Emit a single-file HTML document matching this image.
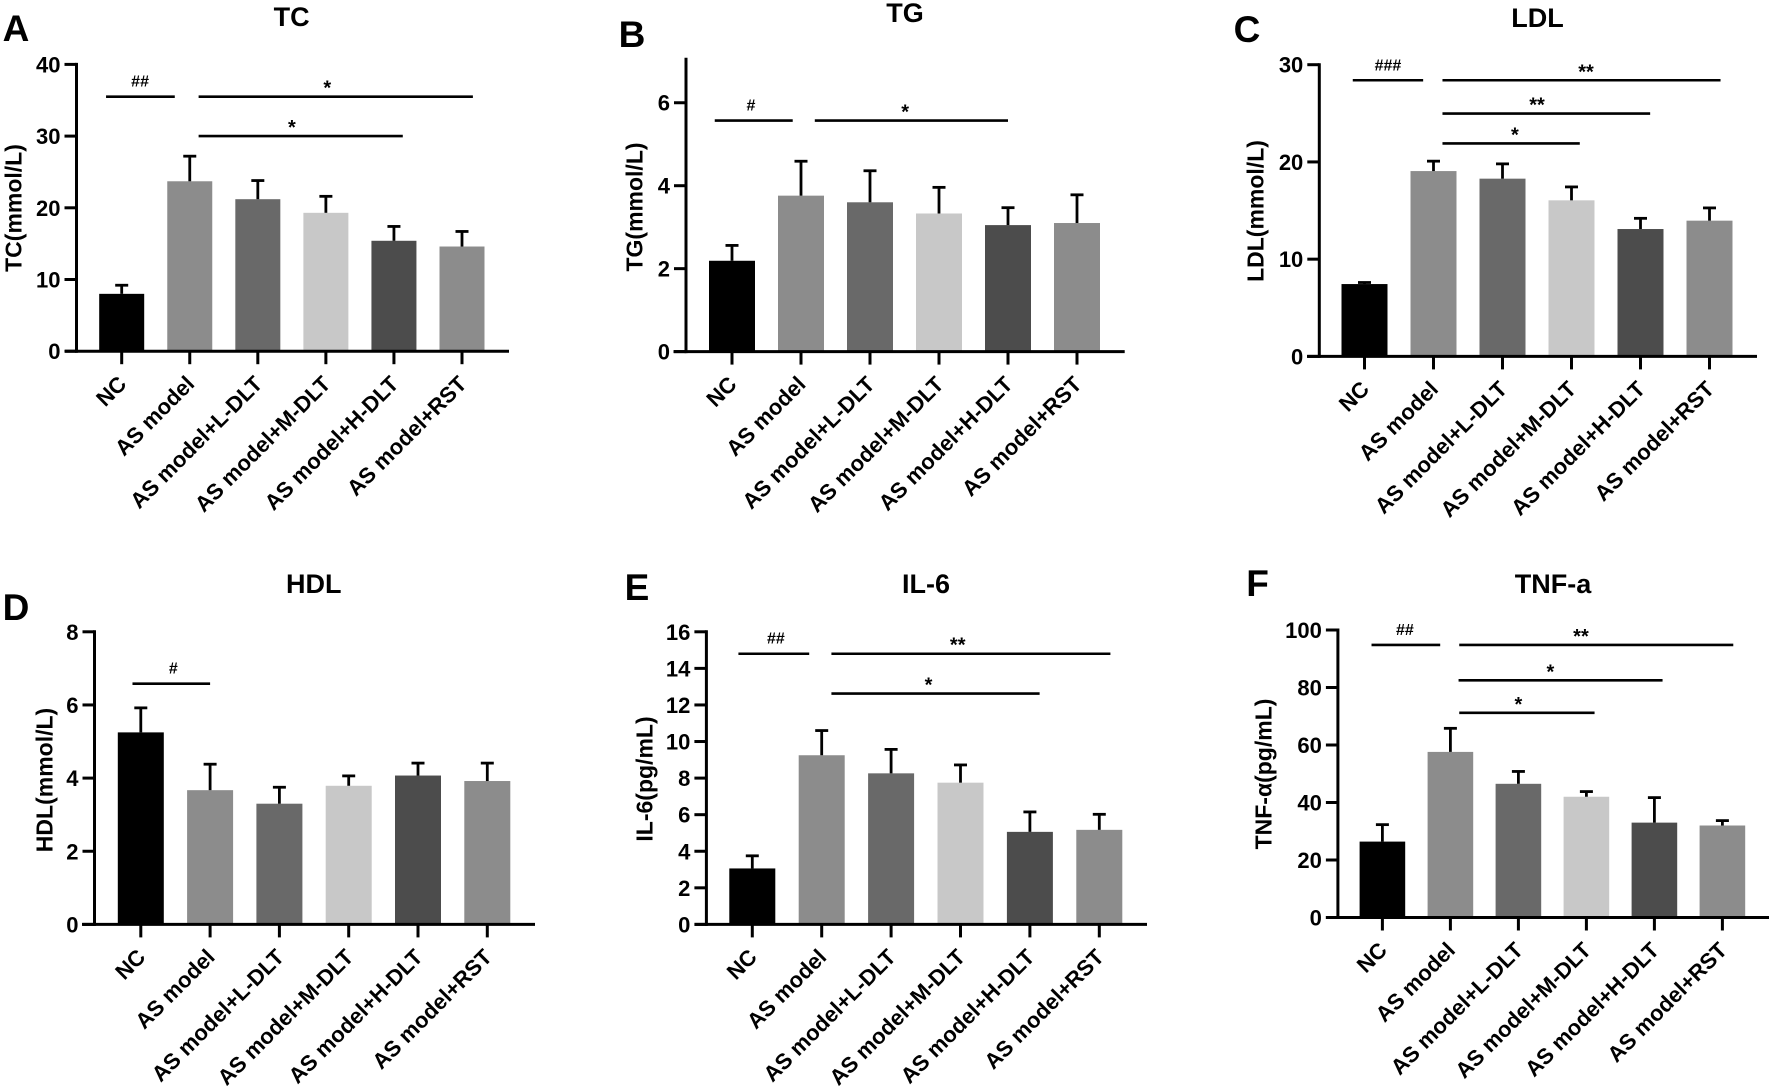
<!DOCTYPE html>
<html lang="en">
<head>
<meta charset="utf-8">
<title>Serum lipid and inflammatory markers</title>
<style>
html,body{margin:0;padding:0;background:#fff;}
body{width:1772px;height:1091px;overflow:hidden;}
svg{display:block;}
text{font-family:"Liberation Sans",Arial,sans-serif;font-weight:bold;fill:#000;}
</style>
</head>
<body>
<svg id="figure" width="1772" height="1091" viewBox="0 0 1772 1091" xmlns="http://www.w3.org/2000/svg"></svg>
<script>
const categories = ["NC", "AS model", "AS model+L-DLT", "AS model+M-DLT", "AS model+H-DLT", "AS model+RST"];

const tcMeans = [8.0, 23.7, 21.2, 19.3, 15.4, 14.6];
const tcErrors = [1.2, 3.5, 2.6, 2.3, 2.0, 2.1];
const tcTicks = [0, 10, 20, 30, 40];
const tcSig = [
  {y: 35.5, from: -0.23, to: 0.78, text: "##", at: 0.27},
  {y: 35.5, from: 1.13, to: 5.16, text: "*", at: 3.02},
  {y: 30, from: 1.13, to: 4.13, text: "*", at: 2.5}
];

const tgMeans = [2.19, 3.76, 3.6, 3.33, 3.05, 3.1];
const tgErrors = [0.37, 0.83, 0.76, 0.63, 0.42, 0.68];
const tgTicks = [0, 2, 4, 6];
const tgSig = [
  {y: 5.57, from: -0.25, to: 0.88, text: "#", at: 0.275},
  {y: 5.57, from: 1.2, to: 4.0, text: "*", at: 2.51}
];

const ldlMeans = [7.44, 19.06, 18.28, 16.05, 13.1, 13.96];
const ldlErrors = [0.16, 1.02, 1.52, 1.38, 1.1, 1.31];
const ldlTicks = [0, 10, 20, 30];
const ldlSig = [
  {y: 28.4, from: -0.17, to: 0.85, text: "###", at: 0.34},
  {y: 28.4, from: 1.13, to: 5.16, text: "**", at: 3.21},
  {y: 24.97, from: 1.13, to: 4.14, text: "**", at: 2.5},
  {y: 21.9, from: 1.13, to: 3.12, text: "*", at: 2.18}
];

const hdlMeans = [5.25, 3.67, 3.3, 3.79, 4.07, 3.92];
const hdlErrors = [0.67, 0.71, 0.45, 0.27, 0.34, 0.49];
const hdlTicks = [0, 2, 4, 6, 8];
const hdlSig = [
  {y: 6.58, from: -0.12, to: 1.0, text: "#", at: 0.47}
];

const il6Means = [3.06, 9.25, 8.26, 7.75, 5.06, 5.17];
const il6Errors = [0.69, 1.35, 1.31, 0.97, 1.09, 0.85];
const il6Ticks = [0, 2, 4, 6, 8, 10, 12, 14, 16];
const il6Sig = [
  {y: 14.8, from: -0.2, to: 0.82, text: "##", at: 0.34},
  {y: 14.8, from: 1.14, to: 5.16, text: "**", at: 2.96},
  {y: 12.62, from: 1.14, to: 4.14, text: "*", at: 2.54}
];

const tnfMeans = [26.4, 57.6, 46.5, 42, 33, 32];
const tnfErrors = [5.9, 8.2, 4.3, 1.8, 8.7, 1.7];
const tnfTicks = [0, 20, 40, 60, 80, 100];
const tnfSig = [
  {y: 94.8, from: -0.16, to: 0.85, text: "##", at: 0.33},
  {y: 94.8, from: 1.13, to: 5.16, text: "**", at: 2.92},
  {y: 82.5, from: 1.12, to: 4.12, text: "*", at: 2.47},
  {y: 71.2, from: 1.13, to: 3.12, text: "*", at: 2.0}
];

const barColors = ["#000000", "#8c8c8c", "#696969", "#c8c8c8", "#4c4c4c", "#8c8c8c"];

const panels = [
  {id: "a", letter: "A", lx: 16, ly: 41, title: "TC", tx: 291.6, ty: 26, ytitle: "TC(mmol/L)", ytx: 22, yty: 208,
   axisX: 76.5, y0: 351.2, yTop: 64.4, maxV: 40, xStart: 65, xEnd: 509, c0: 121.7, step: 68.06, bw: 45,
   means: tcMeans, errors: tcErrors, ticks: tcTicks, sig: tcSig},
  {id: "b", letter: "B", lx: 632, ly: 47, title: "TG", tx: 905, ty: 22, ytitle: "TG(mmol/L)", ytx: 643, yty: 207,
   axisX: 686, y0: 351.6, yTop: 59.2, maxV: 7.05, xStart: 673.5, xEnd: 1124.7, c0: 732, step: 69, bw: 46,
   means: tgMeans, errors: tgErrors, ticks: tgTicks, sig: tgSig},
  {id: "c", letter: "C", lx: 1247, ly: 42, title: "LDL", tx: 1537.5, ty: 27, ytitle: "LDL(mmol/L)", ytx: 1264, yty: 211,
   axisX: 1319.3, y0: 356.4, yTop: 64.7, maxV: 30, xStart: 1307, xEnd: 1757, c0: 1364.5, step: 69, bw: 46,
   means: ldlMeans, errors: ldlErrors, ticks: ldlTicks, sig: ldlSig},
  {id: "d", letter: "D", lx: 16, ly: 620, title: "HDL", tx: 313.8, ty: 593, ytitle: "HDL(mmol/L)", ytx: 53, yty: 780,
   axisX: 94.5, y0: 924.4, yTop: 631.8, maxV: 8, xStart: 82, xEnd: 535, c0: 140.8, step: 69.3, bw: 46,
   means: hdlMeans, errors: hdlErrors, ticks: hdlTicks, sig: hdlSig},
  {id: "e", letter: "E", lx: 637, ly: 600, title: "IL-6", tx: 926, ty: 593, ytitle: "IL-6(pg/mL)", ytx: 653, yty: 779,
   axisX: 706.4, y0: 924.4, yTop: 631.8, maxV: 16, xStart: 694.5, xEnd: 1147, c0: 752.3, step: 69.4, bw: 46,
   means: il6Means, errors: il6Errors, ticks: il6Ticks, sig: il6Sig},
  {id: "f", letter: "F", lx: 1257.6, ly: 596, title: "TNF-a", tx: 1553, ty: 593, ytitle: "TNF-α(pg/mL)", ytx: 1272, yty: 774,
   axisX: 1337.9, y0: 917.5, yTop: 630, maxV: 100, xStart: 1325.9, xEnd: 1769, c0: 1382.4, step: 68, bw: 45.6,
   means: tnfMeans, errors: tnfErrors, ticks: tnfTicks, sig: tnfSig}
];

const SVG_NS = "http://www.w3.org/2000/svg";
const figure = document.getElementById("figure");

function make(tag, parent, attrs, content) {
  const node = document.createElementNS(SVG_NS, tag);
  for (const key in attrs) node.setAttribute(key, attrs[key]);
  if (content !== undefined) node.textContent = content;
  parent.appendChild(node);
  return node;
}

function drawPanel(p) {
  const yScale = v => p.y0 - (v / p.maxV) * (p.y0 - p.yTop);
  const xScale = i => p.c0 + i * p.step;

  const group = make("g", figure, {});
  
  

  const letter = make("text", group, {x: p.lx, y: p.ly, "text-anchor": "middle", "font-size": 37}, p.letter);
  
  

  const title = make("text", group, {x: p.tx, y: p.ty, "text-anchor": "middle", "font-size": 27}, p.title);
  
  

  const yTitle = make("text", group, {x: 0, y: 0, "text-anchor": "middle", "font-size": 23,
    transform: "translate(" + (p.ytx - 0.5) + "," + p.yty + ") rotate(-90)"}, p.ytitle);
  
  

  p.means.forEach((value, i) => {
    const bar = make("rect", group, {x: xScale(i) - p.bw / 2, y: yScale(value), width: p.bw,
      height: p.y0 - yScale(value), fill: barColors[i]});
    
    

    const top = yScale(value + p.errors[i]);
    const stem = make("line", group, {x1: xScale(i), x2: xScale(i), y1: yScale(value), y2: top,
      stroke: "#000", "stroke-width": 2.8});
    
    

    const cap = make("line", group, {x1: xScale(i) - 6.5, x2: xScale(i) + 6.5, y1: top, y2: top,
      stroke: "#000", "stroke-width": 2.8});
    
    

    const tick = make("line", group, {x1: xScale(i), x2: xScale(i), y1: p.y0, y2: p.y0 + 13,
      stroke: "#000", "stroke-width": 3});
    
    

    const label = make("text", group, {x: 0, y: 0, "text-anchor": "end", "font-size": 22,
      transform: "translate(" + (xScale(i) + 6) + "," + (p.y0 + 34) + ") rotate(-45)"}, categories[i]);
    
    
  });

  p.ticks.forEach(value => {
    const tick = make("line", group, {x1: p.axisX - 12, x2: p.axisX, y1: yScale(value), y2: yScale(value),
      stroke: "#000", "stroke-width": 3});
    
    

    const label = make("text", group, {x: p.axisX - 16, y: yScale(value) + 8, "text-anchor": "end", "font-size": 22}, String(value));
    
    
  });

  const yAxis = make("line", group, {x1: p.axisX, x2: p.axisX, y1: p.yTop - 1.5, y2: p.y0 + 1.5,
    stroke: "#000", "stroke-width": 3});
  
  

  const xAxis = make("line", group, {x1: p.xStart, x2: p.xEnd, y1: p.y0, y2: p.y0,
    stroke: "#000", "stroke-width": 3});
  
  

  p.sig.forEach((s, k) => {
    const line = make("line", group, {x1: xScale(s.from), x2: xScale(s.to), y1: yScale(s.y), y2: yScale(s.y),
      stroke: "#000", "stroke-width": 2.6});
    
    

    const isHash = s.text.charAt(0) === "#";
    const mark = make("text", group, {x: xScale(s.at), y: yScale(s.y) - (isHash ? 10 : 2), "text-anchor": "middle",
      "font-size": isHash ? 16 : 20}, s.text);
    
    
  });
}

panels.forEach(drawPanel);
</script>
</body>
</html>
